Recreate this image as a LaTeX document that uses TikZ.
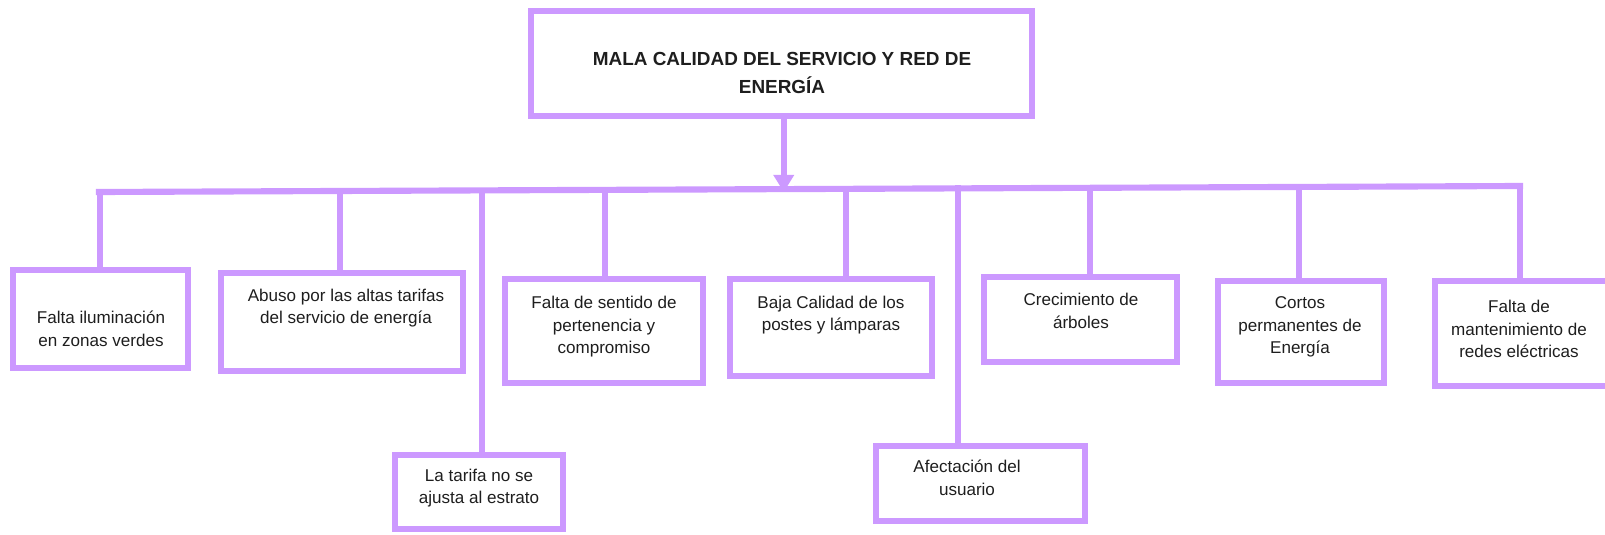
\documentclass[tikz,border=0pt]{standalone}
\usepackage{fontspec}
\setmainfont{Liberation Sans}
\usetikzlibrary{arrows.meta,fit,calc}
\definecolor{lila}{RGB}{204,153,255}
\definecolor{txtc}{RGB}{30,30,30}
\begin{document}
\begin{tikzpicture}[x=0.75pt,y=-0.75pt,
  bx/.style={draw=lila, line width=4.6pt, inner sep=0pt},
  conn/.style={draw=lila, line width=4.6pt},
  txt/.style={align=center, text=txtc, inner sep=0pt, font=\fontsize{12.8}{16.9}\selectfont},
  ttl/.style={align=center, text=txtc, inner sep=0pt, font=\bfseries\fontsize{14.2}{21}\selectfont}]
\useasboundingbox (0,0) rectangle (1605,535);

% top box
\node[bx, fit={(531,11) (1032,116)}] (top) {};
\node[ttl] (tt) at (782,73) {MALA CALIDAD DEL SERVICIO Y RED DE\\ENERG\'IA};

% boxes
\node[bx, fit={(13,270) (188,368)}] (b1) {};
\node[bx, fit={(221,273) (463,371)}] (b2) {};
\node[bx, fit={(395,455) (563,529)}] (b3) {};
\node[bx, fit={(505,279) (703,383)}] (b4) {};
\node[bx, fit={(730,279) (932,376)}] (b5) {};
\node[bx, fit={(876,446) (1085,521)}] (b6) {};
\node[bx, fit={(984,277) (1177,362)}] (b7) {};
\node[bx, fit={(1218,281) (1384,383)}] (b8) {};
\node[bx, fit={(1435,281) (1630,386)}] (b9) {};

% texts
\node[txt] (t1) at (101,329) {Falta iluminación\\en zonas verdes};
\node[txt] (t2) at (346,308) {Abuso por las altas tarifas\\del servicio de energía};
\node[txt] (t3) at (479,488) {La tarifa no se\\ajusta al estrato};
\node[txt] (t4) at (604,327) {Falta de sentido de\\pertenencia y\\compromiso};
\node[txt] (t5) at (831,315) {Baja Calidad de los\\postes y lámparas};
\node[txt] (t6) at (967,478) {Afectación del\\usuario};
\node[txt] (t7) at (1081,311) {Crecimiento de\\árboles};
\node[txt] (t8) at (1300,327) {Cortos\\permanentes de\\Energía};
\node[txt] (t9) at (1519,329) {Falta de\\mantenimiento de\\redes eléctricas};

% bus
\coordinate (L) at (99,192);
\coordinate (R) at (1520,186);
\draw[conn, line cap=rect] (L) -- (R);

\coordinate (j1) at ($(L)!(99,0)!(R)$);
\coordinate (j2) at ($(L)!(339,0)!(R)$);
\coordinate (j3) at ($(L)!(481,0)!(R)$);
\coordinate (j4) at ($(L)!(604,0)!(R)$);
\coordinate (j5) at ($(L)!(845,0)!(R)$);
\coordinate (j6) at ($(L)!(957,0)!(R)$);
\coordinate (j7) at ($(L)!(1089,0)!(R)$);
\coordinate (j8) at ($(L)!(1298,0)!(R)$);
\coordinate (j9) at (R);
\coordinate (ja) at ($(L)!(783,0)!(R)$);

\draw[conn] (j1) -- (j1 |- b1.north);
\draw[conn] (j2) -- (j2 |- b2.north);
\draw[conn] (j3) -- (j3 |- b3.north);
\draw[conn] (j4) -- (j4 |- b4.north);
\draw[conn] (j5) -- (j5 |- b5.north);
\draw[conn] ($(j6)+(0,-3)$) -- (j6 |- b6.north);
\draw[conn] (j7) -- (j7 |- b7.north);
\draw[conn] (j8) -- (j8 |- b8.north);
\draw[conn] (j9) -- (j9 |- b9.north);

% arrow
\draw[conn, -{Triangle[width=15pt,length=13pt]}, lila] (top.south -| ja) -- ($(ja)+(0,3)$);
\end{tikzpicture}
\end{document}
